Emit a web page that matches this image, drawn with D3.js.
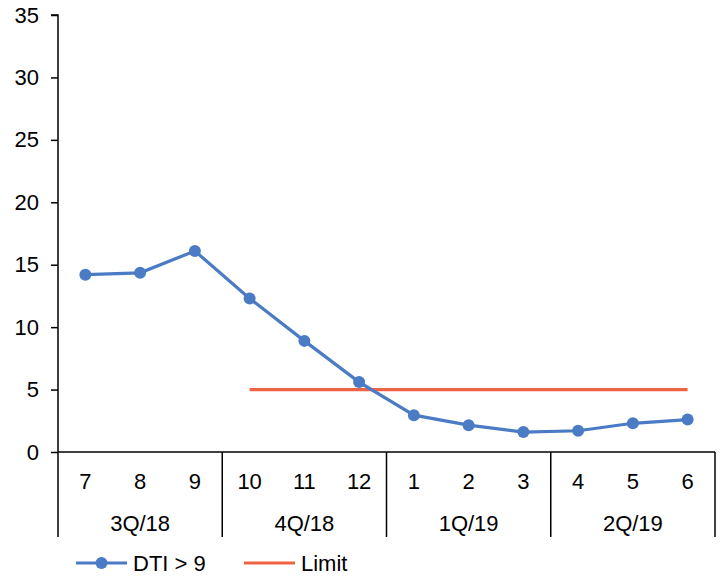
<!DOCTYPE html>
<html lang="en">
<head>
<meta charset="UTF-8">
<title>DTI > 9</title>
<script src="https://d3js.org/d3.v7.min.js"></script>
<style>
  body { margin: 0; background: #fff; }
  .chart text { font-family: "Liberation Sans", Arial, sans-serif; fill: #000; font-size: 22px; }
</style>
</head>
<body>
<svg class="chart"></svg>
<script>
const months = ['7','8','9','10','11','12','1','2','3','4','5','6'];
const quarters = ['3Q/18','4Q/18','1Q/19','2Q/19'];
const dti = [14.2, 14.35, 16.1, 12.3, 8.9, 5.6, 2.95, 2.15, 1.6, 1.7, 2.3, 2.6];
const limit = [null, null, null, 5, 5, 5, 5, 5, 5, 5, 5, 5];
const yTicks = [0, 5, 10, 15, 20, 25, 30, 35];

const W = 721, H = 579;
const margin = {top: 15, right: 6, bottom: 127, left: 58};
const width = W - margin.left - margin.right;
const height = H - margin.top - margin.bottom;

const blue = '#4a7bc4', red = '#ee6443';

const svg = d3.select('.chart').attr('width', W).attr('height', H);
const chart = svg.append('g').attr('transform', 'translate(' + margin.left + ',' + margin.top + ')');

const x = d3.scaleBand().domain(d3.range(months.length)).range([0, width]);
const y = d3.scaleLinear().domain([0, 35]).range([height, 0]);

// y axis
const yAxis = chart.append('g')
  .call(d3.axisLeft(y).tickValues(yTicks).tickSize(7).tickPadding(12));
yAxis.attr('font-size', null).attr('font-family', null);
yAxis.selectAll('line, path').attr('stroke', '#000').attr('stroke-width', 1.5);
yAxis.select('.domain').attr('d', 'M0,' + height + 'V0H-7');

// x axis baseline
chart.append('line')
  .attr('x1', 0).attr('x2', width)
  .attr('y1', height).attr('y2', height)
  .attr('stroke', '#000').attr('stroke-width', 1.5);

// quarter separators
const qw = 3;
for (let i = 0; i <= quarters.length; i++) {
  const xx = i === quarters.length ? width : x(i * qw);
  chart.append('line')
    .attr('x1', xx).attr('x2', xx)
    .attr('y1', height).attr('y2', height + 85)
    .attr('stroke', '#000').attr('stroke-width', 1.5);
}

// month labels
chart.selectAll('.month').data(months).enter().append('text')
  .attr('class', 'month')
  .attr('x', (d, i) => x(i) + x.bandwidth() / 2)
  .attr('y', height + 37)
  .attr('text-anchor', 'middle')
  .text(d => d);

// quarter labels
chart.selectAll('.quarter').data(quarters).enter().append('text')
  .attr('class', 'quarter')
  .attr('x', (d, i) => x(i * qw) + x.bandwidth() * qw / 2)
  .attr('y', height + 79)
  .attr('text-anchor', 'middle')
  .text(d => d);

const cx = i => x(i) + x.bandwidth() / 2;

// limit line
chart.append('path')
  .datum(limit)
  .attr('fill', 'none')
  .attr('stroke', red)
  .attr('stroke-width', 3.2)
  .attr('d', d3.line().defined(d => d != null).x((d, i) => cx(i)).y(d => y(d)));

// dti line
chart.append('path')
  .datum(dti)
  .attr('fill', 'none')
  .attr('stroke', blue)
  .attr('stroke-width', 3.2)
  .attr('d', d3.line().x((d, i) => cx(i)).y(d => y(d)));

chart.selectAll('.dot').data(dti).enter().append('circle')
  .attr('class', 'dot')
  .attr('cx', (d, i) => cx(i))
  .attr('cy', d => y(d))
  .attr('r', 6)
  .attr('fill', blue);

// legend
const lg = svg.append('g').attr('transform', 'translate(0,563)');
lg.append('line').attr('x1', 76).attr('x2', 127).attr('stroke', blue).attr('stroke-width', 3.2);
lg.append('circle').attr('cx', 101.5).attr('r', 6).attr('fill', blue);
lg.append('text').attr('x', 133).attr('y', 8).text('DTI > 9');
lg.append('line').attr('x1', 244).attr('x2', 295).attr('stroke', red).attr('stroke-width', 3.2);
lg.append('text').attr('x', 301).attr('y', 8).text('Limit');
</script>
</body>
</html>
